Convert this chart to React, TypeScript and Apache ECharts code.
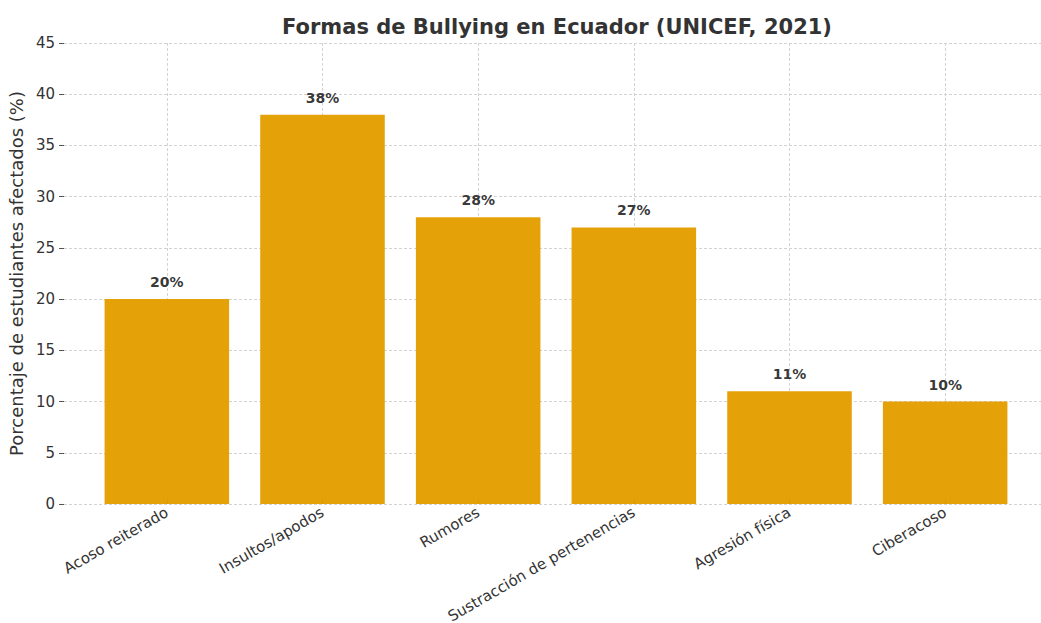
import React, { useEffect, useRef } from "react";
import * as echarts from "echarts";

const categories = [
  "Acoso reiterado",
  "Insultos/apodos",
  "Rumores",
  "Sustracción de pertenencias",
  "Agresión física",
  "Ciberacoso",
];
const values = [20, 38, 28, 27, 11, 10];
const yTicks = { min: 0, max: 45, interval: 5 };
const titleText = "Formas de Bullying en Ecuador (UNICEF, 2021)";
const yAxisName = "Porcentaje de estudiantes afectados (%)";

const FONT = "DejaVu Sans";
const TXT = "#333333";
const GRIDC = "#d3d3d3";

export default function App() {
  const ref = useRef<HTMLDivElement>(null);
  useEffect(() => {
    const chart = echarts.init(ref.current!, null, { renderer: "svg" });
    chart.setOption({
      animation: false,
      backgroundColor: "#ffffff",
      textStyle: { fontFamily: FONT },
      title: {
        text: titleText,
        left: 552,
        top: 11,
        textAlign: "center",
        textStyle: { fontFamily: FONT, fontSize: 21, fontWeight: "bold", color: TXT },
      },
      grid: [
        { left: 64, right: 0, top: 43, bottom: 119, outerBoundsMode: "none", containLabel: false },
        { left: 89, right: 18, top: 43, bottom: 119, outerBoundsMode: "none", containLabel: false },
      ],
      xAxis: [
        { type: "value", gridIndex: 0, show: false, min: 0, max: 1 },
        {
          type: "category",
          gridIndex: 1,
          data: categories,
          axisLine: { show: false },
          axisTick: { show: true, inside: true, length: 5, alignWithLabel: true, lineStyle: { color: "#333", width: 1 } },
          axisLabel: {
            rotate: 30,
            interval: 0,
            margin: 7,
            fontSize: 15,
            color: TXT,
            fontFamily: FONT,
          },
          splitLine: { show: true, alignWithLabel: true, lineStyle: { color: GRIDC, type: [3, 2], width: 1 } },
        },
      ],
      yAxis: [
        {
          type: "value",
          gridIndex: 0,
          min: yTicks.min,
          max: yTicks.max,
          interval: yTicks.interval,
          name: yAxisName,
          nameLocation: "middle",
          nameGap: 39,
          nameTextStyle: { fontSize: 18, color: TXT, fontFamily: FONT },
          axisLine: { show: false },
          axisTick: { show: true, length: 5, lineStyle: { color: "#555", width: 1 } },
          axisLabel: { fontSize: 15, color: TXT, margin: 9, fontFamily: FONT },
          splitLine: { show: true, lineStyle: { color: GRIDC, type: [3, 2], width: 1 } },
        },
        {
          type: "value",
          gridIndex: 1,
          min: yTicks.min,
          max: yTicks.max,
          interval: yTicks.interval,
          axisLine: { show: false },
          axisTick: { show: false },
          axisLabel: { show: false },
          splitLine: { show: false },
        },
      ],
      series: [
        {
          type: "bar",
          xAxisIndex: 1,
          yAxisIndex: 1,
          data: values,
          barWidth: "80%",
          itemStyle: { color: "#E39F00", opacity: 0.97 },
          label: {
            show: true,
            position: "top",
            distance: 10,
            formatter: (p: any) => `${p.value}%`,
            fontSize: 14,
            fontWeight: "bold",
            color: TXT,
            fontFamily: FONT,
          },
        },
      ],
    });
    return () => chart.dispose();
  }, []);
  return <div ref={ref} style={{ width: 1041, height: 623, position: "absolute", left: 0, top: 0 }} />;
}
